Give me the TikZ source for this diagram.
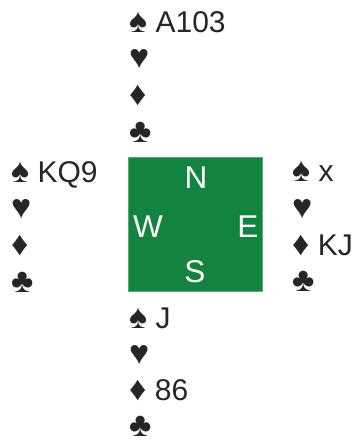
\documentclass[tikz,border=0pt]{standalone}
\usepackage{fontspec}
\setmainfont{Liberation Sans}
\usepackage{xcolor}
\usepackage{tikz}
\usetikzlibrary{positioning}
\definecolor{feltgreen}{RGB}{18,132,64}
\newcommand{\suitsym}[1]{{\fontsize{34}{36.7}\selectfont #1}}
\newcommand{\spd}{\suitsym{♠}}
\newcommand{\hrt}{\suitsym{♥}}
\newcommand{\dmd}{\suitsym{♦}}
\newcommand{\clb}{\suitsym{♣}}

\begin{document}
\begin{tikzpicture}[
  x=1pt, y=-1pt,
  hand/.style={anchor=north west, inner sep=0pt, align=left,
               font=\fontsize{30}{36.7}\selectfont, text=black!85},
  compass/.style={inner sep=0pt, font=\fontsize{31.5}{36}\selectfont,
                  text=white}
]
\useasboundingbox (0,0) rectangle (352,442);
% the table
\node[fill=feltgreen, draw=feltgreen!70!white, line width=0.6pt,
      minimum width=134pt, minimum height=134pt, inner sep=0pt]
  (table) at (195.5,224) {};
\node[compass] (n) at (196,178) {N};
\node[compass] (w) at (148,227) {W};
\node[compass] (e) at (248,227) {E};
\node[compass] (s) at (195,272) {S};
% the four hands
\node[hand] (north) at (129,11) {\spd\ A103\\\hrt\\\dmd\\\clb};
\node[hand] (west)  at (11,161) {\spd\ KQ9\\\hrt\\\dmd\\\clb};
\node[hand] (east)  at (292,161) {\spd\ x\\\hrt\\\dmd\ KJ\\\clb};
\node[hand, font=\fontsize{30}{35.8}\selectfont]
  (south) at (129,308) {\spd\ J\\\hrt\\\dmd\ 86\\\clb};
\end{tikzpicture}
\end{document}
